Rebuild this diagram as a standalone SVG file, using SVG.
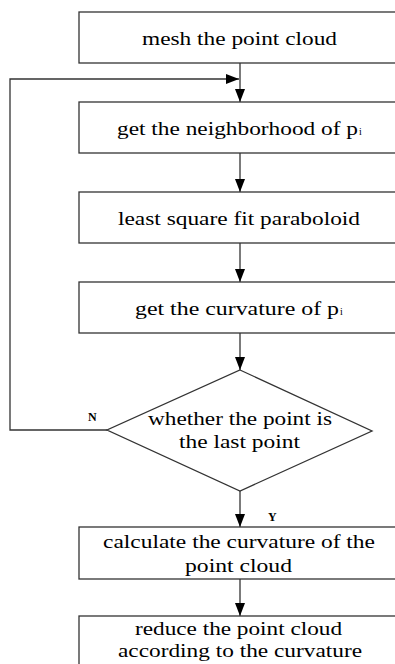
<svg xmlns="http://www.w3.org/2000/svg" width="395" height="664" viewBox="0 0 395 664">
<defs>
<style>
.box{fill:#fff;stroke:#333;stroke-width:1.3}
.ln{fill:none;stroke:#333;stroke-width:1.3}
.t{font-family:"Liberation Serif","Times New Roman",serif;font-size:19px;fill:#000}
.sub{font-family:"Liberation Serif","Times New Roman",serif;font-size:10px;fill:#000}
.lbl{font-family:"Liberation Serif","Times New Roman",serif;font-size:12px;font-weight:bold;fill:#000}
</style>
<marker id="ah" markerUnits="userSpaceOnUse" markerWidth="14" markerHeight="11" refX="13" refY="5" orient="auto">
<path d="M0,0 L13,5 L0,10 z" fill="#000"/>
</marker>
</defs>
<rect width="395" height="664" fill="#fff"/>
<g id="connectors">
<line class="ln" x1="240" y1="63" x2="240" y2="102" marker-end="url(#ah)"/>
<polyline class="ln" points="107,430 10,430 10,79 239,79" marker-end="url(#ah)"/>
<line class="ln" x1="240" y1="153" x2="240" y2="192" marker-end="url(#ah)"/>
<line class="ln" x1="240" y1="243" x2="240" y2="282" marker-end="url(#ah)"/>
<line class="ln" x1="240" y1="333" x2="240" y2="370" marker-end="url(#ah)"/>
<line class="ln" x1="240" y1="491" x2="240" y2="527" marker-end="url(#ah)"/>
<line class="ln" x1="240" y1="579" x2="240" y2="616" marker-end="url(#ah)"/>
<text class="lbl" x="88" y="421">N</text>
<text class="lbl" x="268" y="521">Y</text>
</g>
<g id="n1">
<rect class="box" x="79" y="12" width="323" height="51"/>
<text class="t" x="142" y="45" textLength="195" lengthAdjust="spacingAndGlyphs">mesh the point cloud</text>
</g>
<g id="n2">
<rect class="box" x="79" y="102" width="323" height="51"/>
<text class="t" x="117" y="135" textLength="241" lengthAdjust="spacingAndGlyphs">get the neighborhood of p</text>
<text class="sub" x="359" y="135">i</text>
</g>
<g id="n3">
<rect class="box" x="79" y="192" width="323" height="51"/>
<text class="t" x="118" y="225" textLength="242" lengthAdjust="spacingAndGlyphs">least square fit paraboloid</text>
</g>
<g id="n4">
<rect class="box" x="79" y="282" width="323" height="51"/>
<text class="t" x="135" y="315" textLength="204" lengthAdjust="spacingAndGlyphs">get the curvature of  p</text>
<text class="sub" x="340" y="315">i</text>
</g>
<g id="n5">
<polygon class="box" points="240,370 372,431 240,491 107,430"/>
<text class="t" x="148" y="425" textLength="184" lengthAdjust="spacingAndGlyphs">whether the point is</text>
<text class="t" x="179" y="448" textLength="121" lengthAdjust="spacingAndGlyphs">the last point</text>
</g>
<g id="n6">
<rect class="box" x="79" y="527" width="323" height="52"/>
<text class="t" x="103" y="548" textLength="272" lengthAdjust="spacingAndGlyphs">calculate the curvature of the</text>
<text class="t" x="185" y="572" textLength="107" lengthAdjust="spacingAndGlyphs">point cloud</text>
</g>
<g id="n7">
<rect class="box" x="79" y="616" width="323" height="70"/>
<text class="t" x="135" y="635" textLength="207" lengthAdjust="spacingAndGlyphs">reduce the point cloud</text>
<text class="t" x="118" y="657" textLength="244" lengthAdjust="spacingAndGlyphs">according to the curvature</text>
</g>
</svg>
